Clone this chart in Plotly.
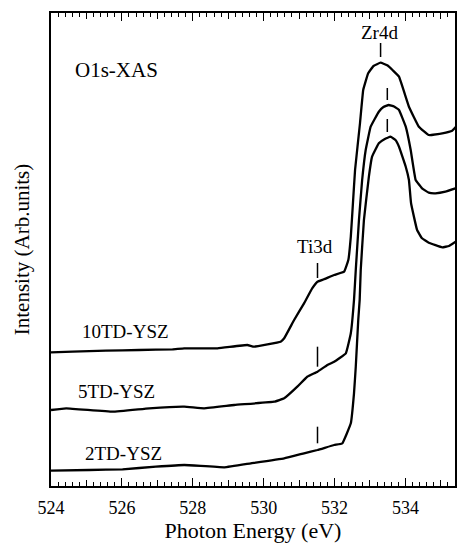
import plotly.graph_objects as go

# ---- data (photon energy in eV, intensity in arbitrary units) ----
energy_10td = [524.00, 524.61, 525.55, 526.49, 527.43, 527.76, 528.70, 529.54, 529.73, 530.48,
               530.58, 530.86, 531.14, 531.37, 531.52, 531.70, 531.99, 532.27, 532.39, 532.46,
               532.52, 532.58, 532.72, 532.81, 532.95, 533.10, 533.30, 533.50, 533.65, 533.82,
               534.10, 534.38, 534.66, 535.04, 535.32, 535.42]
intensity_10td = [133.7, 134.3, 135.3, 136.0, 136.7, 137.7, 137.7, 141.0, 139.3, 144.3,
                  147.7, 166.0, 182.7, 197.7, 204.3, 206.7, 211.0, 214.3, 226.0, 249.3,
                  282.7, 316.0, 363.0, 396.0, 412.7, 420.0, 423.3, 420.5, 415.5, 409.3,
                  379.3, 359.3, 351.0, 352.7, 355.3, 359.0]

energy_5td = [524.00, 524.43, 525.74, 526.77, 527.76, 528.32, 529.17, 530.30, 530.58, 530.95,
              531.23, 531.52, 531.80, 531.99, 532.32, 532.46, 532.55, 532.60, 532.69, 532.78,
              532.88, 533.02, 533.25, 533.38, 533.53, 533.68, 533.82, 534.01, 534.15, 534.29,
              534.47, 534.66, 534.85, 535.13, 535.42]
intensity_5td = [76.0, 77.7, 74.3, 77.7, 79.3, 77.7, 81.0, 84.3, 87.7, 99.3,
                 109.3, 114.3, 121.0, 124.3, 132.7, 152.7, 186.0, 216.0, 266.0, 306.0,
                 336.0, 359.3, 374.3, 379.0, 381.0, 379.5, 376.0, 359.3, 336.0, 306.0,
                 297.7, 293.3, 292.7, 294.3, 297.7]

energy_2td = [524.00, 525.08, 526.02, 526.96, 527.76, 528.89, 529.64, 530.58, 531.14, 531.52,
              531.99, 532.22, 532.46, 532.55, 532.60, 532.67, 532.71, 532.74, 532.83, 532.97,
              533.06, 533.25, 533.42, 533.58, 533.72, 533.82, 534.01, 534.10, 534.16, 534.33,
              534.47, 534.66, 535.04, 535.23, 535.42]
intensity_2td = [15.3, 16.0, 16.7, 19.3, 21.0, 18.7, 22.7, 27.7, 32.7, 36.0,
                 41.0, 42.7, 62.7, 92.7, 119.3, 166.0, 186.0, 216.0, 266.0, 309.3,
                 329.3, 342.7, 347.0, 349.3, 346.0, 339.3, 319.3, 306.0, 282.7, 256.0,
                 247.7, 243.3, 238.7, 240.0, 244.3]

# peak marker positions (energy) and their vertical extents (intensity)
zr_marker_energy = [533.30, 533.49, 533.49]
zr_marker_low = [429.0, 386.0, 354.0]
zr_marker_high = [443.0, 398.0, 367.0]
ti_marker_energy = [531.52, 531.52, 531.52]
ti_marker_low = [208.0, 119.3, 42.7]
ti_marker_high = [223.0, 139.3, 59.3]

sample_names = ["10TD-YSZ", "5TD-YSZ", "2TD-YSZ"]
sample_label_x = [524.82, 524.71, 524.90]
sample_label_y = [154.3, 94.3, 32.7]

x_tick_vals = [524, 526, 528, 530, 532, 534]
x_tick_text = ["524", "526", "528", "530", "532", "534"]
x_mid_ticks = [525, 527, 529, 531, 533, 535]

FONT = "Liberation Serif, Times New Roman, serif"

fig = go.Figure()

for ex, iy in [(energy_10td, intensity_10td), (energy_5td, intensity_5td), (energy_2td, intensity_2td)]:
    fig.add_trace(go.Scatter(x=ex, y=iy, mode="lines",
                             line=dict(color="black", width=2.3, shape="spline", smoothing=0.25),
                             showlegend=False, hoverinfo="skip"))

mx, my = [], []
for e, lo, hi in zip(zr_marker_energy + ti_marker_energy, zr_marker_low + ti_marker_low,
                     zr_marker_high + ti_marker_high):
    mx += [e, e, None]
    my += [lo, hi, None]
fig.add_trace(go.Scatter(x=mx, y=my, mode="lines", line=dict(color="black", width=1.5),
                         showlegend=False, hoverinfo="skip"))

# invisible trace for the secondary x axis carrying 1-eV ticks
fig.add_trace(go.Scatter(x=[524, 535.4], y=[0, 0], xaxis="x2", mode="lines",
                         line=dict(width=0), showlegend=False, hoverinfo="skip"))

annotations = []
for name, lx, ly in zip(sample_names, sample_label_x, sample_label_y):
    annotations.append(dict(x=lx, y=ly, text=name, showarrow=False, xanchor="left", yanchor="middle",
                            font=dict(family=FONT, size=19, color="black")))
annotations.append(dict(x=533.27, y=454, text="Zr4d", showarrow=False, xanchor="center", yanchor="middle",
                        font=dict(family=FONT, size=19, color="black")))
annotations.append(dict(x=531.45, y=240, text="Ti3d", showarrow=False, xanchor="center", yanchor="middle",
                        font=dict(family=FONT, size=19, color="black")))
annotations.append(dict(x=524.61, y=416, text="O1s-XAS", showarrow=False, xanchor="left", yanchor="middle",
                        font=dict(family=FONT, size=21, color="black")))

fig.update_layout(
    width=458, height=543,
    margin=dict(l=51, r=1, t=13, b=57),
    paper_bgcolor="white", plot_bgcolor="white",
    font=dict(family=FONT, color="black"),
    annotations=annotations,
    xaxis=dict(range=[524, 535.4], showgrid=False, zeroline=False,
               showline=True, linecolor="black", linewidth=1.5, mirror="allticks",
               ticks="inside", ticklen=8, tickwidth=1.3, tickcolor="black",
               tickvals=x_tick_vals, ticktext=x_tick_text, ticklabelstandoff=5,
               tickfont=dict(family=FONT, size=18, color="black"),
               minor=dict(ticks="inside", dtick=0.2, tick0=524, ticklen=4, tickwidth=1, tickcolor="black",
                          showgrid=False),
               title=dict(text="Photon Energy (eV)", font=dict(family=FONT, size=22, color="black"),
                          standoff=8)),
    xaxis2=dict(overlaying="x", matches="x", range=[524, 535.4], showgrid=False, zeroline=False,
                showline=False, ticks="inside", ticklen=6, tickwidth=1.2, tickcolor="black",
                tickvals=x_mid_ticks, showticklabels=False, mirror="allticks", side="bottom"),
    yaxis=dict(range=[0, 473], showgrid=False, zeroline=False, showticklabels=False, ticks="",
               showline=True, linecolor="black", linewidth=1.5, mirror=True,
               title=dict(text="Intensity (Arb.units)", font=dict(family=FONT, size=21, color="black"),
                          standoff=14)),
)

fig.write_html("out.html")
